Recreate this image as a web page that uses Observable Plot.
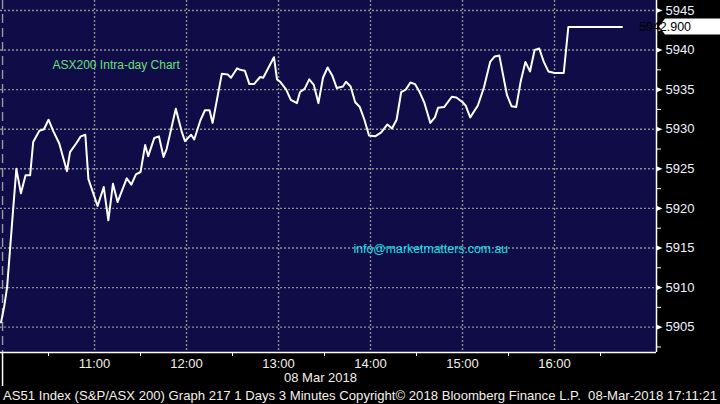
<!DOCTYPE html>
<html><head><meta charset="utf-8">
<script src="https://cdn.jsdelivr.net/npm/d3@7"></script>
<script src="https://cdn.jsdelivr.net/npm/@observablehq/plot@0.6"></script>
<style>
html,body{margin:0;padding:0;background:#000;}
body{width:720px;height:404px;overflow:hidden;position:relative;}
#panel{position:absolute;left:0;top:0;width:656px;height:352px;background:#0f0c48;}
#chart{position:absolute;left:0;top:0;}
#chart svg{background:transparent;}
</style></head><body><div id="panel"></div><div id="chart"></div>
<script>
const day = "2018-03-08";
const times = ["09:59","10:01","10:03","10:06","10:09","10:12","10:15","10:18","10:20","10:24","10:27","10:30","10:33","10:37","10:42","10:44","10:48","10:51","10:54","10:56","11:02","11:06","11:09","11:12","11:15","11:21","11:24","11:27","11:30","11:33","11:35","11:39","11:42","11:45","11:47","11:53","11:57","11:59","12:03","12:05","12:09","12:12","12:15","12:17","12:23","12:27","12:29","12:33","12:35","12:38","12:41","12:44","12:48","12:50","12:57","12:59","13:01","13:05","13:08","13:12","13:14","13:17","13:20","13:23","13:26","13:29","13:32","13:35","13:38","13:42","13:44","13:47","13:50","13:53","13:56","13:59","14:03","14:07","14:11","14:14","14:17","14:20","14:23","14:26","14:29","14:32","14:35","14:39","14:42","14:44","14:48","14:53","14:56","15:00","15:02","15:05","15:10","15:14","15:18","15:21","15:24","15:29","15:32","15:35","15:38","15:41","15:44","15:47","15:50","15:53","15:56","16:00","16:06","16:09","16:44"];
const values = [5905.6,5907.5,5910.1,5917.6,5925.0,5921.9,5924.2,5924.2,5928.4,5929.8,5930.0,5931.2,5929.8,5928.2,5924.7,5927.1,5928.2,5929.1,5929.3,5923.7,5920.3,5922.7,5918.5,5923.1,5920.8,5923.8,5923.0,5924.3,5924.6,5928.0,5926.6,5928.9,5929.1,5926.5,5927.5,5932.6,5929.6,5928.5,5929.3,5928.7,5931.1,5932.4,5932.4,5930.8,5937.0,5936.9,5936.5,5937.7,5937.5,5937.4,5935.7,5935.7,5936.6,5936.5,5939.1,5936.3,5936.0,5935.0,5933.7,5933.3,5934.7,5935.1,5936.3,5935.6,5933.3,5936.5,5937.8,5936.8,5935.2,5935.4,5936.0,5935.4,5933.4,5932.8,5931.2,5929.2,5929.1,5929.6,5930.6,5930.1,5931.2,5934.7,5935.0,5935.9,5935.7,5934.7,5933.4,5930.8,5931.5,5932.7,5932.8,5934.1,5934.0,5933.4,5933.0,5931.5,5933.0,5935.3,5938.5,5939.2,5939.3,5934.3,5932.9,5932.8,5936.1,5938.5,5937.3,5940.0,5940.2,5938.5,5937.3,5937.1,5937.1,5942.9,5942.9];
const yTicks = [5905,5910,5915,5920,5925,5930,5935,5940,5945];
const yMinor = [5902.5,5907.5,5912.5,5917.5,5922.5,5927.5,5932.5,5937.5,5942.5];
const hourTicks = ["11:00","12:00","13:00","14:00","15:00","16:00"];
const halfTicks = ["10:30","11:30","12:30","13:30","14:30","15:30","16:30"];
const sessionOpen = "10:00";
const xDomain = ["09:58:40","17:06:30"];
const yDomain = [5901.8, 5946.26];
const lastValue = 5942.9;
const lastLabel = "5942.900";
const title = "ASX200 Intra-day Chart";
const email = "info@marketmatters.com.au";
const dateLabel = "08 Mar 2018";
const footer = "AS51 Index (S&P/ASX 200) Graph 217 1 Days 3 Minutes Copyright\u00a9 2018 Bloomberg Finance L.P.  08-Mar-2018 17:11:21";

const FONT = "Liberation Sans, Arial, sans-serif";
const parseT = d3.utcParse("%Y-%m-%d %H:%M:%S");
const P = s => parseT(`${day} ${s.length === 5 ? s + ":00" : s}`);
const data = times.map((t, i) => ({time: P(t), value: values[i]}));
const blank = () => "";
const xEnd = P(xDomain[1]);
const rightTriangle = {draw(ctx, size) { ctx.moveTo(0, -2.6); ctx.lineTo(6, 0); ctx.lineTo(0, 2.6); ctx.closePath(); }};
const GRID = "#8d8d8d", SEP = "#9b9b9b";

const chart = Plot.plot({
  width: 720, height: 404,
  marginLeft: 0, marginRight: 64, marginTop: 0, marginBottom: 52,
  x: {type: "utc", domain: xDomain.map(P), axis: null},
  y: {domain: yDomain, axis: null},
  marks: [
    Plot.ruleY(yTicks, {y: d => d, stroke: GRID, strokeWidth: 1.4, strokeDasharray: "2,2"}),
    Plot.ruleX(hourTicks.map(P), {x: d => d, stroke: GRID, strokeWidth: 1.4, strokeDasharray: "2,2"}),
    Plot.ruleX([P(sessionOpen)], {x: d => d, stroke: SEP, strokeWidth: 1.4, strokeDasharray: "9,5"}),
    Plot.ruleX([xEnd], {x: d => d, stroke: "#fff", strokeWidth: 1.5}),
    Plot.ruleY([yDomain[0]], {y: d => d, stroke: "#fff", strokeWidth: 1.5}),
    Plot.axisY(yTicks, {anchor: "right", label: null, tickSize: 0, tickPadding: 9, tickFormat: d => d3.format("d")(d), fill: "#f2f2ff", fontSize: 13, fontFamily: FONT}),
    Plot.axisY(yMinor, {anchor: "right", label: null, tickSize: 4, tickFormat: blank, stroke: "#fff"}),
    Plot.dot(yTicks, {x: () => xEnd, y: d => d, symbol: rightTriangle, r: 3, fill: "#fff", stroke: null}),
    Plot.axisX(halfTicks.map(P), {anchor: "bottom", label: null, tickSize: 4, tickFormat: blank, stroke: "#fff"}),
    Plot.axisX(hourTicks.map(P), {anchor: "bottom", label: null, tickSize: 0, tickPadding: 6, tickFormat: d3.utcFormat("%H:%M"), fill: "#f4f0ea", fontSize: 13, fontFamily: FONT}),
    Plot.axisX([P(sessionOpen)], {anchor: "bottom", label: null, tickSize: 34, tickFormat: blank, stroke: "#fff", strokeWidth: 1.5}),
    Plot.line(data, {x: "time", y: "value", stroke: "#fff", strokeWidth: 2, strokeLinejoin: "round"}),
    Plot.text([title], {frameAnchor: "top-left", dx: 52, dy: 65, textAnchor: "start", lineAnchor: "middle", fill: "#66e07a", fontSize: 12, fontFamily: FONT}),
    Plot.text([email], {frameAnchor: "top-left", dx: 353, dy: 249, textAnchor: "start", lineAnchor: "middle", fill: "#12e0ea", fontSize: 12.3, fontFamily: FONT}),
    Plot.text([dateLabel], {frameAnchor: "bottom-left", dx: 320, dy: 25.5, textAnchor: "middle", lineAnchor: "middle", fill: "#f4f0ea", fontSize: 13, fontFamily: FONT}),
    Plot.text([footer], {frameAnchor: "bottom-left", dx: 2.5, dy: 43, textAnchor: "start", lineAnchor: "middle", fill: "#f4f0ea", fontSize: 13, fontFamily: FONT})
  ]
});
document.getElementById("chart").appendChild(chart);

const svg = d3.select(chart.tagName.toLowerCase() === "svg" ? chart : chart.querySelector("svg"));
svg.style("background", "transparent");
svg.selectAll("text").filter(function() { return this.textContent.startsWith("AS51"); })
  .attr("textLength", 714).attr("lengthAdjust", "spacingAndGlyphs");

// last value tag, placed with the chart's own y scale
const py = chart.scale("y").apply(lastValue);
const g = svg.append("g");
g.append("path")
  .attr("d", `M659,${py} L665,${py - 8} L720,${py - 8} L720,${py + 8} L665,${py + 8} Z`)
  .attr("fill", "#fff");
g.append("text").attr("x", 665).attr("y", py).attr("dy", "0.35em")
  .attr("fill", "#000").attr("font-size", 12.5).attr("font-family", FONT)
  .text(lastLabel);
</script></body></html>
